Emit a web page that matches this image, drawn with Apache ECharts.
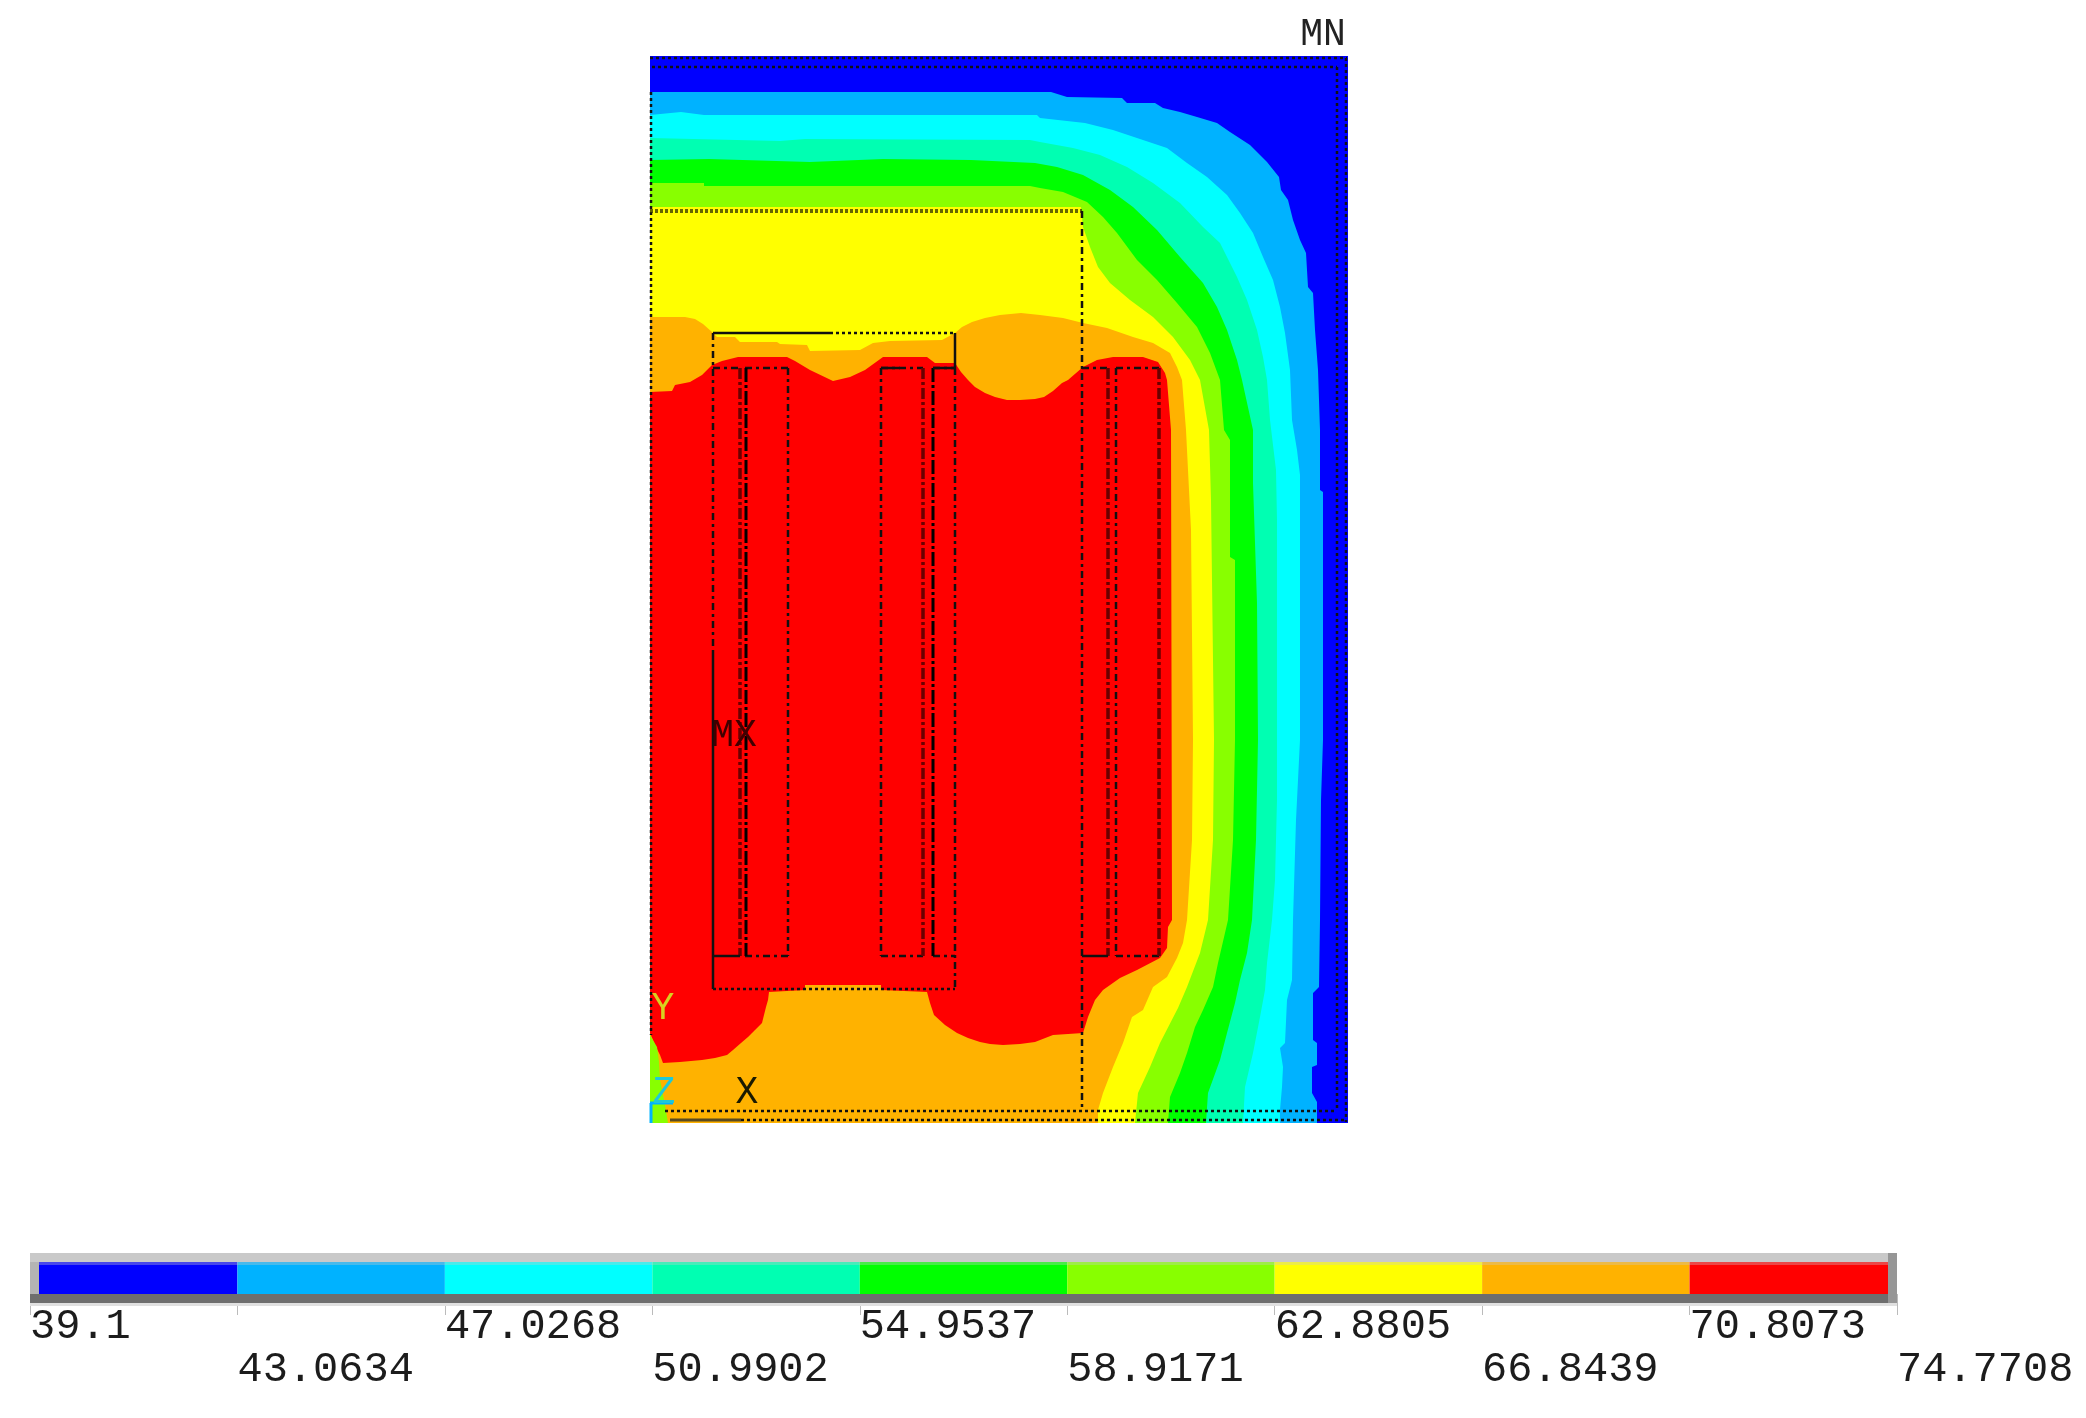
<!DOCTYPE html>
<html>
<head>
<meta charset="utf-8">
<title>Temperature contour</title>
<script src="https://cdn.jsdelivr.net/npm/echarts@6/dist/echarts.min.js"></script>
<style>
    html, body { margin: 0; padding: 0; background: #fff; }
    #chart { width: 2086px; height: 1418px; filter: blur(0.7px); }
</style>
</head>
<body>
<div id="chart"></div>
<script>
// contour levels, legend reads these
const tickLabels = ["39.1", "43.0634", "47.0268", "50.9902", "54.9537", "58.9171", "62.8805", "66.8439", "70.8073", "74.7708"];
const bandColors = ["#0000ff", "#00b2ff", "#00ffff", "#00ffb2", "#00ff00", "#88ff00", "#ffff00", "#ffb200", "#ff0000"];

// isotherms. every band is painted over the colder one
const iso43 = [[650, 92], [1051, 92], [1067, 97], [1122, 98], [1127, 103], [1155, 103], [1163, 108], [1180, 112], [1197, 117], [1217, 123], [1230, 132], [1250, 145], [1267, 162], [1279, 177], [1281, 190], [1288, 200], [1293, 220], [1300, 240], [1306, 253], [1308, 287], [1313, 293], [1315, 330], [1318, 370], [1320, 430], [1320, 490], [1323, 492], [1323, 740], [1321, 800], [1320, 920], [1319, 987], [1313, 993], [1313, 1040], [1317, 1043], [1317, 1065], [1312, 1067], [1312, 1093], [1317, 1102], [1317, 1123]];
const iso47 = [[650, 115], [681, 112], [704, 115], [1037, 115], [1040, 118], [1085, 123], [1113, 130], [1140, 139], [1167, 148], [1187, 163], [1207, 177], [1227, 195], [1240, 213], [1253, 233], [1263, 257], [1273, 280], [1280, 307], [1285, 333], [1290, 370], [1292, 420], [1297, 450], [1300, 475], [1300, 740], [1296, 820], [1293, 920], [1292, 980], [1287, 1000], [1285, 1043], [1280, 1048], [1283, 1067], [1282, 1087], [1280, 1110], [1280, 1123]];
const iso51 = [[650, 138], [780, 141], [805, 139], [1030, 140], [1040, 142], [1073, 148], [1100, 155], [1127, 167], [1153, 183], [1180, 203], [1203, 227], [1220, 243], [1237, 277], [1247, 300], [1257, 330], [1263, 357], [1267, 380], [1270, 420], [1276, 470], [1277, 520], [1277, 800], [1275, 880], [1272, 920], [1267, 963], [1265, 990], [1260, 1017], [1253, 1053], [1245, 1087], [1243, 1123]];
const iso55 = [[650, 160], [709, 159], [810, 162], [883, 159], [971, 160], [1035, 163], [1057, 167], [1083, 175], [1110, 190], [1133, 207], [1157, 230], [1180, 257], [1203, 283], [1217, 307], [1227, 330], [1237, 360], [1242, 380], [1253, 430], [1253, 483], [1257, 603], [1258, 740], [1256, 840], [1252, 920], [1247, 953], [1240, 980], [1235, 1003], [1227, 1033], [1220, 1060], [1208, 1093], [1206, 1123]];
const iso59 = [[650, 183], [704, 183], [704, 186], [1030, 186], [1040, 188], [1063, 192], [1087, 202], [1103, 217], [1117, 233], [1137, 260], [1157, 280], [1177, 303], [1197, 327], [1210, 353], [1220, 380], [1224, 430], [1230, 440], [1230, 557], [1235, 560], [1235, 740], [1233, 840], [1228, 920], [1218, 963], [1213, 987], [1203, 1010], [1195, 1027], [1187, 1053], [1180, 1073], [1170, 1097], [1168, 1123]];
const iso63 = [[650, 207], [1081, 207], [1083, 227], [1090, 247], [1098, 267], [1110, 283], [1130, 300], [1153, 317], [1173, 337], [1190, 360], [1200, 380], [1209, 430], [1211, 500], [1214, 740], [1213, 840], [1208, 920], [1200, 953], [1187, 987], [1178, 1008], [1160, 1043], [1150, 1067], [1138, 1093], [1135, 1123]];
const iso67 = [[650, 317], [685, 317], [695, 319], [703, 324], [712, 332], [717, 337], [735, 337], [740, 342], [777, 342], [780, 344], [807, 345], [810, 351], [860, 350], [873, 343], [890, 341], [942, 340], [955, 333], [962, 327], [972, 322], [985, 318], [1000, 315], [1021, 313], [1040, 315], [1063, 318], [1083, 323], [1107, 328], [1133, 337], [1153, 343], [1170, 353], [1177, 367], [1182, 380], [1186, 430], [1187, 450], [1191, 530], [1193, 740], [1192, 840], [1187, 920], [1183, 943], [1177, 958], [1167, 977], [1153, 987], [1143, 1010], [1132, 1017], [1123, 1043], [1113, 1067], [1103, 1093], [1098, 1110], [1098, 1123]];
const iso71 = [[650, 392], [672, 391], [675, 385], [690, 382], [702, 375], [712, 365], [722, 361], [738, 357], [787, 357], [795, 361], [810, 370], [833, 381], [850, 377], [865, 370], [883, 357], [927, 357], [935, 363], [955, 363], [961, 372], [968, 380], [975, 387], [985, 393], [995, 397], [1007, 400], [1020, 400], [1035, 399], [1044, 397], [1053, 391], [1062, 383], [1068, 380], [1083, 367], [1097, 360], [1113, 357], [1143, 357], [1158, 362], [1165, 373], [1167, 380], [1171, 430], [1172, 920], [1168, 927], [1167, 948], [1160, 958], [1137, 970], [1120, 978], [1103, 990], [1095, 1000], [1088, 1017], [1083, 1033], [1053, 1035], [1035, 1042], [1020, 1044], [1003, 1045], [990, 1044], [980, 1042], [968, 1038], [957, 1033], [945, 1025], [934, 1015], [930, 1003], [927, 992], [881, 990], [881, 985], [805, 985], [805, 990], [769, 992], [768, 1000], [766, 1007], [762, 1023], [755, 1030], [748, 1037], [741, 1043], [733, 1050], [727, 1055], [715, 1058], [702, 1060], [680, 1062], [663, 1063], [660, 1055], [656, 1047], [650, 1033]];
const cornerPatch = [[650, 1035], [657, 1047], [659, 1062], [660, 1080], [665, 1105], [668, 1123], [650, 1123]];

// model outlines, each row is x1, y1, x2, y2
const frameLines = [[650, 58, 1347, 58], [652, 67, 1337, 67], [1337, 67, 1337, 1111], [1346, 58, 1346, 1122], [651, 92, 651, 1035], [665, 1111, 1337, 1111], [741, 1120, 1347, 1120], [830, 333, 955, 333], [713, 989, 955, 989]];
const shelfLines = [[650, 211, 1082, 211]];
const coilLines = [[1082, 211, 1082, 1111], [713, 333, 713, 653], [955, 368, 955, 989], [788, 368, 788, 956], [881, 368, 881, 956], [1116, 368, 1116, 956], [713, 368, 740, 368], [745, 368, 788, 368], [881, 368, 923, 368], [933, 368, 955, 368], [1082, 368, 1108, 368], [1116, 368, 1159, 368], [745, 956, 788, 956], [881, 956, 923, 956], [933, 956, 955, 956], [1116, 956, 1159, 956]];
const heavyLines = [[740, 368, 740, 956], [923, 368, 923, 956], [1108, 368, 1108, 956], [1159, 368, 1159, 956]];
const strongLines = [[746, 368, 746, 956], [933, 368, 933, 956]];
const solidLines = [[713, 333, 830, 333], [955, 333, 955, 368], [713, 653, 713, 989], [713, 956, 740, 956], [1082, 956, 1108, 956], [881, 368, 900, 368], [933, 368, 955, 368]];
const baseLines = [[670, 1120, 741, 1120]];
const triadLines = [[651, 1103, 651, 1123], [650, 1103, 673, 1103]];

// x, y, text index
const markerTexts = ["MN", "MX", "Y", "Z", "X"];
const markerPoints = [[1323, 35, 0], [734, 736, 1], [663, 1009, 2], [664, 1093, 3], [747, 1093, 4]];
const markerColors = ["#222", "#400000", "#d8d020", "#20c8d8", "#1a1a00"];

const plotSize = { left: 650, top: 56, width: 698, height: 1067 };
const contours = [
    { points: iso43, color: bandColors[1] },
    { points: iso47, color: bandColors[2] },
    { points: iso51, color: bandColors[3] },
    { points: iso55, color: bandColors[4] },
    { points: iso59, color: bandColors[5] },
    { points: iso63, color: bandColors[6] },
    { points: iso67, color: bandColors[7] },
    { points: iso71, color: bandColors[8] },
    { points: cornerPatch, color: bandColors[5] }
];

const levels = tickLabels.map(Number);
const legendData = bandColors.map((c, i) => [levels[i], levels[i + 1], i]);

function contourItem(params, api) {
    const item = contours[api.value(0)];
    const pts = item.points.map(p => api.coord(p));
    // iso lines that reach the bottom edge are closed through the lower left corner
    const last = item.points[item.points.length - 1];
    if (last[1] === 1123) {
        pts.push(api.coord([650, 1123]));
    }
    return { type: "polygon", shape: { points: pts }, style: { fill: item.color } };
}

function lineSeries(rows, color, width, dash) {
    return {
        type: "custom",
        xAxisIndex: 0,
        yAxisIndex: 0,
        silent: true,
        z: 5,
        data: rows,
        renderItem(params, api) {
            const a = api.coord([api.value(0), api.value(1)]);
            const b = api.coord([api.value(2), api.value(3)]);
            return {
                type: "line",
                shape: { x1: a[0], y1: a[1], x2: b[0], y2: b[1] },
                style: { stroke: color, lineWidth: width, lineDash: dash, fill: null }
            };
        }
    };
}

const chart = echarts.init(document.getElementById("chart"));
chart.setOption({
    animation: false,
    backgroundColor: "#fff",
    grid: [
        plotSize,
        { left: 30, top: 1262, width: 1867, height: 32 }
    ],
    xAxis: [
        { type: "value", gridIndex: 0, min: 650, max: 1348, show: false },
        {
            type: "value",
            gridIndex: 1,
            min: levels[0],
            max: levels[levels.length - 1],
            axisLine: { show: false },
            splitLine: { show: false },
            axisTick: { show: true, customValues: levels, length: 21, lineStyle: { color: "#bbb", width: 1 } },
            axisLabel: {
                customValues: levels,
                hideOverlap: false,
                showMinLabel: true,
                showMaxLabel: true,
                align: "left",
                verticalAlign: "top",
                margin: 11,
                lineHeight: 43,
                fontFamily: "Liberation Mono",
                fontSize: 42,
                color: "#1c1c1c",
                formatter(value) {
                    const i = levels.findIndex(v => Math.abs(v - value) < 1e-6);
                    return (i % 2 ? "\n" : "") + tickLabels[i];
                }
            }
        }
    ],
    yAxis: [
        { type: "value", gridIndex: 0, min: 56, max: 1123, inverse: true, show: false },
        { type: "value", gridIndex: 1, min: 0, max: 1, show: false }
    ],
    graphic: [
        { type: "rect", z: 10, shape: { x: 30, y: 1253, width: 1867, height: 9 }, style: { fill: "#c9c9c9" } },
        { type: "rect", z: 10, shape: { x: 30, y: 1294, width: 1867, height: 9 }, style: { fill: "#6e6e6e" } },
        { type: "rect", z: 10, shape: { x: 30, y: 1303, width: 1867, height: 3 }, style: { fill: "#e0e0e0" } },
        { type: "rect", z: 10, shape: { x: 30, y: 1262, width: 9, height: 32 }, style: { fill: "#b4b4b4" } },
        { type: "rect", z: 10, shape: { x: 1888, y: 1253, width: 9, height: 50 }, style: { fill: "#969696" } },
        { type: "rect", z: 10, shape: { x: 39, y: 1262, width: 1849, height: 3 }, style: { fill: "rgba(200,200,200,0.35)" } }
    ],
    series: [
        {
            // coldest band fills the whole section
            type: "custom",
            xAxisIndex: 0,
            yAxisIndex: 0,
            silent: true,
            z: 1,
            data: [[650, 56, 1348, 1123]],
            renderItem(params, api) {
                const a = api.coord([api.value(0), api.value(1)]);
                const b = api.coord([api.value(2), api.value(3)]);
                return { type: "rect", shape: { x: a[0], y: a[1], width: b[0] - a[0], height: b[1] - a[1] }, style: { fill: bandColors[0] } };
            }
        },
        {
            type: "custom",
            xAxisIndex: 0,
            yAxisIndex: 0,
            silent: true,
            z: 2,
            data: contours.map((c, i) => [i]),
            renderItem: contourItem
        },
        lineSeries(frameLines, "#111", 2.5, [3, 3]),
        lineSeries(shelfLines, "rgba(50,50,0,0.75)", 4, [3, 2]),
        lineSeries(coilLines, "#111", 2.5, [7, 4, 3, 4]),
        lineSeries(heavyLines, "#6a0000", 3.5, [11, 3, 3, 3]),
        lineSeries(strongLines, "#000", 3, [14, 3, 3, 3]),
        lineSeries(solidLines, "#111", 2.5, null),
        lineSeries(baseLines, "#5a4a20", 3, null),
        lineSeries(triadLines, "#00b2ff", 3, null),
        {
            type: "custom",
            xAxisIndex: 0,
            yAxisIndex: 0,
            silent: true,
            z: 6,
            data: markerPoints,
            renderItem(params, api) {
                const p = api.coord([api.value(0), api.value(1)]);
                const i = api.value(2);
                return {
                    type: "text",
                    style: {
                        x: p[0],
                        y: p[1],
                        text: markerTexts[i],
                        fill: markerColors[i],
                        font: "38px 'Liberation Mono'",
                        textAlign: "center",
                        textVerticalAlign: "middle"
                    }
                };
            }
        },
        {
            type: "custom",
            xAxisIndex: 1,
            yAxisIndex: 1,
            silent: true,
            z: 3,
            data: legendData,
            renderItem(params, api) {
                const a = api.coord([api.value(0), 1]);
                const b = api.coord([api.value(1), 0]);
                return { type: "rect", shape: { x: a[0], y: a[1], width: b[0] - a[0], height: b[1] - a[1] }, style: { fill: bandColors[api.value(2)] } };
            }
        }
    ]
});
</script>
</body>
</html>
